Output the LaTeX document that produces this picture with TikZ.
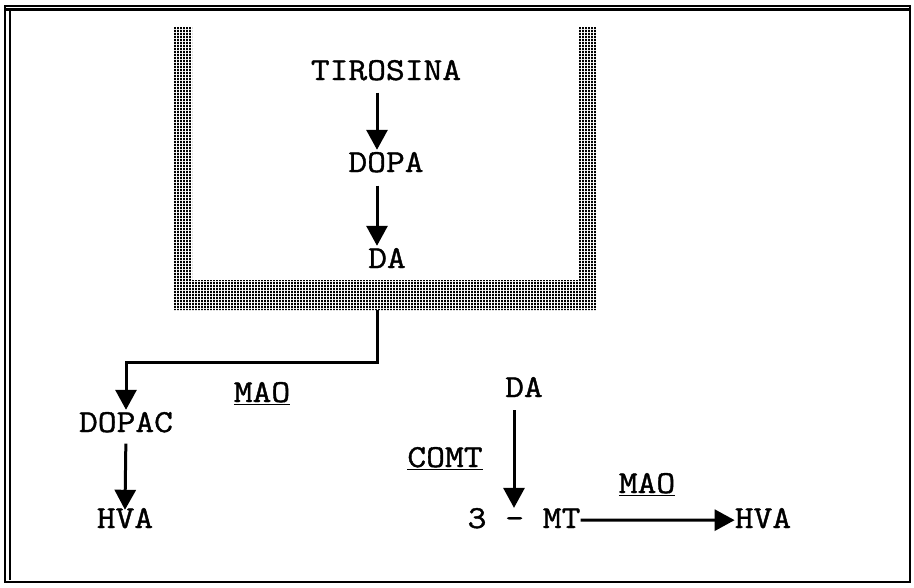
\documentclass[tikz,border=0pt]{standalone}
\usepackage{fontspec}
\setmonofont[FakeStretch=1.14,FakeBold=1.2]{Latin Modern Mono}
\usetikzlibrary{arrows.meta,patterns.meta}
\pgfdeclarepattern{name=dotgrid, type=uncolored,
  bottom left={\pgfpoint{0pt}{0pt}}, top right={\pgfpoint{3.3pt}{3.3pt}},
  tile size={\pgfpoint{3.3pt}{3.3pt}},
  code={\pgfpathrectangle{\pgfpointorigin}{\pgfpoint{2.4pt}{2.5pt}}\pgfusepath{fill}}}
\tikzset{
  lbl/.style={font=\ttfamily\fontsize{32}{36}\selectfont, inner sep=0pt, anchor=base},
  arr/.style={line width=3pt, -{Triangle[length=20pt,width=21pt]}},
  frame/.style={line width=2pt},
  band/.style={pattern={dotgrid}, pattern color=black}
}
\begin{document}
\begin{tikzpicture}[x=1pt,y=-1pt]
\useasboundingbox (0,0) rectangle (914,587);
% frame
\draw[frame] (5,6) rectangle (910,582);
\draw[frame] (10,9) -- (10,580);
\draw[line width=3pt] (5,9) -- (910,9);
% hatched U band
\fill[band] (173,27) -- (192,27) -- (192,280) -- (578,280) -- (578,27) -- (597,27)
  -- (597,310) -- (173,310) -- cycle;
% nodes
\node[lbl] (tir) at (386,80) {TIROSINA};
\node[lbl] (dopa) at (386,172) {DOPA};
\node[lbl] (da1) at (387,268) {DA};
\coordinate (exit) at (377,310);
\coordinate (bend) at (377,362);
\node[lbl] (mao1) at (262,402) {\underline{MAO}};
\node[lbl] (dopac) at (126,432) {DOPAC};
\node[lbl] (hva1) at (125,528) {HVA};
\node[lbl] (da2) at (524,397) {DA};
\node[lbl] (comt) at (445,467) {\underline{COMT}};
\node[lbl] (mao2) at (647,493) {\underline{MAO}};
\node[lbl] (mt) at (524,528) {3 - MT};
\node[lbl] (hva2) at (763,528) {HVA};
% connectors
\draw[arr, shorten <=12pt, shorten >=2pt] ([xshift=-9pt]tir.south) -- ([xshift=-9pt]dopa.north);
\draw[arr, shorten <=13pt, shorten >=2pt] ([xshift=-9pt]dopa.south) -- ([xshift=-10pt]da1.north);
\draw[arr, shorten >=2pt] (exit) -- (bend) -| (dopac.north);
\draw[arr, shorten <=11pt, shorten >=-2pt] (dopac.south) -- (hva1.north);
\draw[arr, shorten <=13pt] ([xshift=-10pt]da2.south) -- ([xshift=-10pt]mt.north);
\draw[arr] ([yshift=-2pt]mt.east) -- ([yshift=-2pt]hva2.west);
\end{tikzpicture}
\end{document}
